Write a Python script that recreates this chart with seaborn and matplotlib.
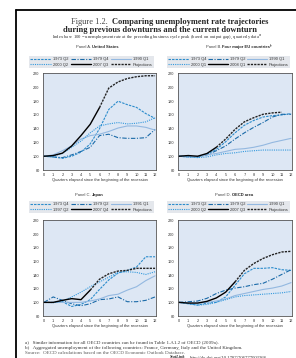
import numpy as np
import matplotlib.pyplot as plt
import pandas as pd
import seaborn as sns
from matplotlib.lines import Line2D

# quarters elapsed since the start of each recession
quarters = list(range(13))

# Panel A: United States
us_labels = ['1973 Q2', '1979 Q4', '1990 Q1', '2000 Q2', '2007 Q3', 'Projections']
us_1973 = [100, 99, 97, 100, 106, 118, 140, 168, 180, 175, 171, 162, 155]
us_1979 = [100, 99, 98, 102, 107, 113, 130, 132, 127, 126, 126, 127, 139]
us_1990 = [100, 102, 108, 115, 125, 130, 132, 136, 141, 144, 144, 142, 138]
us_2000 = [100, 100, 104, 113, 122, 134, 144, 147, 149, 147, 148, 150, 156]
us_actual = [100, 101, 104.5, 115, 130, 146.5, 170.7]
us_proj = [170.7, 199, 208, 213, 215.6, 217, 217]

# Panel B: four major EU countries
eu_labels = ['1973 Q4', '1979 Q2', '1990 Q1', '2000 Q1', '2008 Q1', 'Projections']
eu_1973 = [100, 99, 99, 103, 110, 121, 134, 145, 152, 157, 159, 160, 162]
eu_1979 = [100, 100, 99, 102, 108, 115, 125, 134, 142, 149, 157, 161, 161]
eu_1990 = [100, 99, 100, 102, 104, 107, 110, 111, 113, 116, 120, 123, 126]
eu_2000 = [100, 99, 98, 99, 102, 104, 105, 107, 108, 109, 109, 109, 109]
eu_actual = [100, 101, 100, 104, 113]
eu_proj = [113, 125, 139, 150, 156, 161, 163, 164]

# Panel C: Japan
jp_labels = ['1973 Q4', '1979 Q2', '1991 Q1', '1997 Q2', '2007 Q4', 'Projections']
jp_1973 = [100, 100, 101, 94, 97, 104, 119, 133, 143, 147, 152, 167, 167]
jp_1979 = [100, 108, 103, 98, 95, 98, 104, 105, 108, 101, 101, 103, 108]
jp_1991 = [100, 100, 100, 100, 100, 102, 105, 110, 112, 118, 123, 132, 139]
jp_1997 = [100, 99.5, 102, 108, 115, 123, 130, 137, 144, 145, 144, 141, 145]
jp_actual = [100, 100, 103, 105.5, 104, 118]
jp_proj = [118, 134, 142, 146, 147, 150, 150, 150]

# Panel D: OECD area
oecd_labels = ['1973 Q2', '1979 Q2', '1990 Q1', '2000 Q2', '2007 Q3', 'Projections']
oecd_1973 = [100, 98, 96, 99, 100, 108, 125, 142, 150, 150, 151, 148, 147]
oecd_1979 = [100, 101, 102, 106, 113, 118, 121, 123, 126, 128, 134, 141, 148]
oecd_1990 = [100, 99, 99, 100, 102, 105, 110, 113, 116, 119, 121, 124, 129]
oecd_2000 = [100, 98, 96, 97, 100, 104, 108, 110, 111, 112, 113, 114, 116]
oecd_actual = [100, 99, 99, 101.5, 106.5, 115, 130]
oecd_proj = [130, 147, 157, 164.5, 170, 174, 175]

panels = [
    ('Panel A.', 'United States', us_labels, [us_1973, us_1979, us_1990, us_2000], us_actual, us_proj),
    ('Panel B.', 'Four major EU countries\u1d47', eu_labels, [eu_1973, eu_1979, eu_1990, eu_2000], eu_actual, eu_proj),
    ('Panel C.', 'Japan', jp_labels, [jp_1973, jp_1979, jp_1991, jp_1997], jp_actual, jp_proj),
    ('Panel D.', 'OECD area', oecd_labels, [oecd_1973, oecd_1979, oecd_1990, oecd_2000], oecd_actual, oecd_proj),
]

hist_styles = [
    dict(color='#2b8ccc', linestyle=(0, (2.2, 1.0)), linewidth=0.8),
    dict(color='#1a6aa8', linestyle=(0, (4, 1.4, 1, 1.4)), linewidth=0.8),
    dict(color='#93b8e0', linestyle='-', linewidth=0.8),
    dict(color='#3399dd', linestyle=(0, (1, 1)), linewidth=0.8),
]
actual_style = dict(color='black', linestyle='-', linewidth=1.0)
proj_style = dict(color='#222222', linestyle=(0, (1.6, 0.8)), linewidth=1.0)

sns.set_style('white')
plt.rcParams['font.family'] = ['Liberation Sans Narrow', 'Liberation Sans', 'DejaVu Sans']
serif = ['Liberation Serif', 'DejaVu Serif']

W, H = 296, 358


def fx(px):
    return px / W


def fy(py):
    return 1 - py / H


fig = plt.figure(figsize=(W / 100, H / 100), dpi=100)

# page frame
fig.add_artist(Line2D([fx(16), fx(16)], [fy(10), 0], color='black', lw=1.3, transform=fig.transFigure))
fig.add_artist(Line2D([fx(16), 1], [fy(10), fy(10)], color='black', lw=1.3, transform=fig.transFigure))

# titles
fig.text(fx(108), fy(22), 'Figure 1.2.', family=serif, fontsize=6.0, color='#444444', ha='right', va='center')
fig.text(fx(112), fy(22), 'Comparing unemployment rate trajectories', family=serif, fontsize=6.0,
         fontweight='bold', ha='left', va='center')
fig.text(fx(160), fy(29.5), 'during previous downturns and the current downturn', family=serif, fontsize=6.0,
         fontweight='bold', ha='center', va='center')
fig.text(fx(157), fy(36.5), 'Index base 100 = unemployment rate at the preceding business cycle peak '
         '(based on output gap), quarterly data$^{a}$', family=serif, fontsize=3.35, color='#333333',
         ha='center', va='center')

boxes = [
    dict(ax=(43, 170, 113, 97), leg=(27, 70, 129, 14), title=(92, 48)),
    dict(ax=(178, 170, 114, 97), leg=(165, 70, 127, 14), title=(222, 48)),
    dict(ax=(43, 316, 113, 96), leg=(27, 215, 129, 14), title=(92, 196)),
    dict(ax=(178, 316, 114, 96), leg=(165, 215, 127, 14), title=(232, 196)),
]

for (pname, pbold, labels, hist, actual, proj), box in zip(panels, boxes):
    x0, yb, w, h = box['ax']
    ax = fig.add_axes([fx(x0), fy(yb), w / W, h / H])
    ax.set_facecolor('#dde7f4')

    for values, st in zip(hist, hist_styles):
        sns.lineplot(x=quarters, y=values, ax=ax, **st)
    n = len(actual)
    sns.lineplot(x=quarters[:n], y=actual, ax=ax, **actual_style)
    sns.lineplot(x=quarters[n - 1:n - 1 + len(proj)], y=proj, ax=ax, **proj_style)

    ax.set_xlim(-0.1, 12.1)
    ax.set_ylim(80, 221)
    ax.set_xticks(quarters)
    ax.set_yticks(range(80, 221, 20))
    ax.tick_params(labelsize=2.8, length=1.2, width=0.4, pad=1.2, colors='#333333')
    for sp in ax.spines.values():
        sp.set_color('#555555')
        sp.set_linewidth(0.6)
    ax.set_xlabel('Quarters elapsed since the beginning of the recession', fontsize=2.9,
                  labelpad=0.8, color='#333333')
    ax.set_ylabel('')

    handles = list(ax.lines)
    order = [0, 3, 1, 4, 2, 5]
    lx, ly, lw_, lh = box['leg']
    leg = ax.legend([handles[i] for i in order], [labels[i] for i in order], ncol=3,
                    loc='lower left', bbox_to_anchor=(fx(lx), fy(ly), lw_ / W, lh / H),
                    bbox_transform=fig.transFigure, mode='expand', fontsize=2.9,
                    handlelength=5, handletextpad=0.5, columnspacing=1.0, labelspacing=0.35,
                    borderpad=0.35, frameon=True, fancybox=False, facecolor='#e4e7ec',
                    edgecolor='none', framealpha=1)
    for t in leg.get_texts():
        t.set_color('#333333')

    tx, ty = box['title']
    fig.text(fx(tx - 1), fy(ty), pname, fontsize=3, color='#444444', ha='right', va='baseline')
    fig.text(fx(tx), fy(ty), pbold, fontsize=3, fontweight='bold', ha='left', va='baseline')

# notes
fig.text(fx(25), fy(342), 'a)   Similar information for all OECD countries can be found in Table 1.A1.2 of OECD (2009a).',
         family=serif, fontsize=3.6, color='#333333', ha='left', va='center')
fig.text(fx(25), fy(347.5), 'b)   Aggregated unemployment of the following countries: France, Germany, Italy and the United Kingdom.',
         family=serif, fontsize=3.6, color='#333333', ha='left', va='center')
fig.text(fx(25), fy(352.7), 'Source:  OECD calculations based on the OECD Economic Outlook Database.',
         family=serif, fontsize=3.6, color='#555555', ha='left', va='center')
fig.text(fx(170), fy(357.5), 'StatLink', family=serif, fontsize=3.2, fontstyle='italic', fontweight='bold',
         ha='left', va='center')
fig.text(fx(190), fy(357.5), 'http://dx.doi.org/10.1787/706777003368', family=serif, fontsize=3.4,
         color='#333333', ha='left', va='center')

fig.savefig('out.png', dpi=100)
